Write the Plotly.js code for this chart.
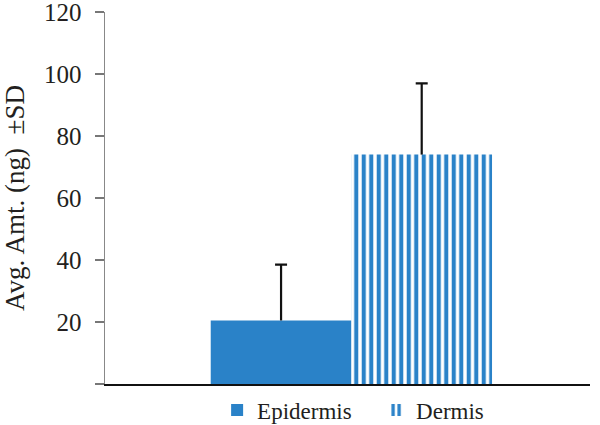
<!DOCTYPE html>
<html>
<head>
<meta charset="utf-8">
<script src="https://cdn.plot.ly/plotly-3.0.1.min.js"></script>
<style>html,body{margin:0;padding:0;background:#fff;}#chart{width:600px;height:425px;}</style>
</head>
<body>
<div id="chart"></div>
<script>
const category = ['Sample'];
const seriesNames = ['Epidermis', 'Dermis'];
const epidermisMean = [20.5];
const epidermisSD = [18];
const dermisMean = [74];
const dermisSD = [23];
const yTicks = [0, 20, 40, 60, 80, 100, 120];
const yTickLabels = ['', '20', '40', '60', '80', '100', '120'];

const blue = '#2a82c8';
const fontFam = 'Liberation Serif';
const txt = '#231f20';
const errColor = '#111';

function capTrace(mean, sd, group) {
  // invisible bar reaching mean+SD; its zero-length error bar draws only the top cap
  return {
    type: 'bar', x: category, y: mean.map((m, i) => m + sd[i]), offsetgroup: group,
    showlegend: false, hoverinfo: 'skip',
    marker: {color: 'rgba(0,0,0,0)', line: {width: 0}},
    error_y: {type: 'data', array: mean.map(() => 0), color: errColor, thickness: 2.2, width: 6}
  };
}

const traces = [
  {
    type: 'bar', name: seriesNames[0], x: category, y: epidermisMean, offsetgroup: 'a',
    marker: {color: blue, line: {width: 0}},
    error_y: {type: 'data', symmetric: false, array: epidermisSD, arrayminus: [0],
              color: errColor, thickness: 2.2, width: 0}
  },
  {
    type: 'bar', name: seriesNames[1], x: category, y: dermisMean, offsetgroup: 'b',
    marker: {color: blue, line: {width: 0},
             pattern: {shape: '|', size: 7.5, solidity: 0.55, fgcolor: blue, bgcolor: '#ffffff', fillmode: 'replace'}},
    error_y: {type: 'data', symmetric: false, array: dermisSD, arrayminus: [0],
              color: errColor, thickness: 2.2, width: 0}
  },
  capTrace(epidermisMean, epidermisSD, 'a'),
  capTrace(dermisMean, dermisSD, 'b')
];

const layout = {
  width: 600, height: 425,
  margin: {l: 105, r: 10, t: 12, b: 41, autoexpand: false},
  paper_bgcolor: '#fff', plot_bgcolor: '#fff',
  barmode: 'group', bargap: 0.42, bargroupgap: 0,
  showlegend: true,
  legend: {orientation: 'h', x: 0.559, xanchor: 'center', y: -0.07, yanchor: 'middle',
           font: {family: fontFam, size: 23, color: txt}, traceorder: 'normal',
           itemwidth: 30, entrywidth: 114, bgcolor: 'rgba(0,0,0,0)'},
  font: {family: fontFam, size: 24, color: txt},
  xaxis: {showticklabels: false, ticks: '', showline: true, linecolor: '#111', linewidth: 1.5,
          showgrid: false, zeroline: false, fixedrange: true, range: [-0.508, 0.492]},
  yaxis: {range: [0, 120], tickvals: yTicks, ticktext: yTickLabels, ticks: 'outside', ticklen: 9,
          tickcolor: '#777', tickwidth: 1.5, showline: true, linecolor: '#888', linewidth: 1.5,
          showgrid: false, zeroline: false, ticklabelstandoff: 8, ticklabeloverflow: 'allow',
          automargin: true,
          tickfont: {family: fontFam, size: 25, color: txt},
          title: {text: 'Avg. Amt. (ng)  ±SD', font: {family: fontFam, size: 27, color: txt}, standoff: 24}}
};

Plotly.newPlot('chart', traces, layout, {displayModeBar: false, staticPlot: true});
</script>
</body>
</html>
